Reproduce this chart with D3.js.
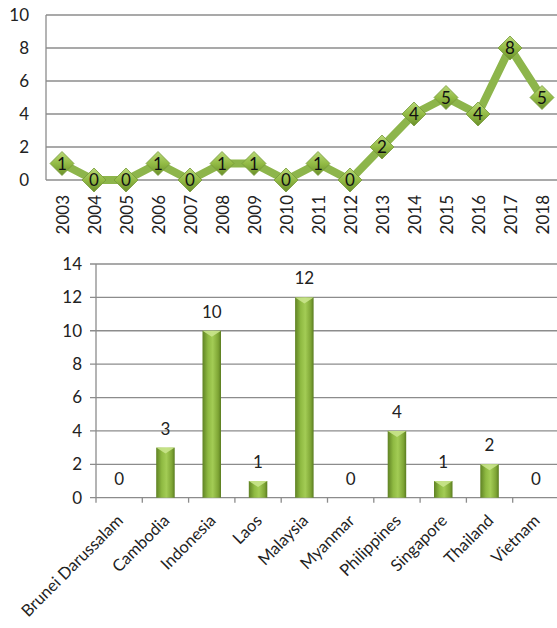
<!DOCTYPE html>
<html><head><meta charset="utf-8">
<script src="https://cdn.jsdelivr.net/npm/d3@7"></script>
<style>body{margin:0;background:#fff}svg{display:block;font-family:Lato,"Open Sans",sans-serif}</style>
</head><body><svg id="c" width="557" height="628"></svg>
<script>
const years = ["2003","2004","2005","2006","2007","2008","2009","2010","2011","2012","2013","2014","2015","2016","2017","2018"];
const yearValues = [1,0,0,1,0,1,1,0,1,0,2,4,5,4,8,5];
const lineTicks = [0,2,4,6,8,10];
const countries = ["Brunei Darussalam","Cambodia","Indonesia","Laos","Malaysia","Myanmar","Philippines","Singapore","Thailand","Vietnam"];
const countryValues = [0,3,10,1,12,0,4,1,2,0];
const barTicks = [0,2,4,6,8,10,12,14];

const svg = d3.select("#c");
const defs = svg.append("defs");
const dg = defs.append("linearGradient").attr("id","dia").attr("x1",0).attr("y1",0).attr("x2",0).attr("y2",1);
dg.append("stop").attr("offset","0%").attr("stop-color","#b9d878");
dg.append("stop").attr("offset","50%").attr("stop-color","#93bb45");
dg.append("stop").attr("offset","100%").attr("stop-color","#6a8f2a");
const bg = defs.append("linearGradient").attr("id","bar").attr("x1",0).attr("y1",0).attr("x2",1).attr("y2",0);
bg.append("stop").attr("offset","0%").attr("stop-color","#5f8224");
bg.append("stop").attr("offset","30%").attr("stop-color","#8fba42");
bg.append("stop").attr("offset","55%").attr("stop-color","#a3cc55");
bg.append("stop").attr("offset","85%").attr("stop-color","#7ea535");
bg.append("stop").attr("offset","100%").attr("stop-color","#5a7c20");
const grid = "#8c8c8c";
const fs = 17;

// ---- Top line chart
const L = {l:46, r:557, t:15, b:180};
const x1 = d3.scaleBand().domain(years).range([L.l, L.l + 32*16]);
const y1 = d3.scaleLinear().domain([0,10]).range([L.b, L.t]);
const g1 = svg.append("g");
g1.selectAll("line.g").data(lineTicks).join("line")
  .attr("x1",L.l).attr("x2",L.r).attr("y1",d=>y1(d)).attr("y2",d=>y1(d))
  .attr("stroke",grid).attr("stroke-width",1.3);
g1.append("line").attr("x1",L.l).attr("x2",L.l).attr("y1",L.t).attr("y2",L.b).attr("stroke",grid).attr("stroke-width",1.3);
g1.selectAll("text.yt").data(lineTicks).join("text")
  .attr("x",L.l-17).attr("y",d=>y1(d)).attr("dy","0.35em").attr("text-anchor","end")
  .attr("font-size",fs).attr("fill","#222").text(d=>d);
g1.selectAll("text.xt").data(years).join("text")
  .attr("transform",d=>`translate(${x1(d)+x1.bandwidth()/2+7},${L.b+15}) rotate(-90)`)
  .attr("text-anchor","end").attr("font-size",fs).attr("fill","#222").text(d=>d);
const line = d3.line().x((d,i)=>x1(years[i])+x1.bandwidth()/2).y(d=>y1(d));
g1.append("path").datum(yearValues).attr("d",line).attr("fill","none")
  .attr("stroke","#8db54b").attr("stroke-width",8).attr("stroke-linejoin","miter");
const mk = g1.selectAll("g.m").data(yearValues).join("g")
  .attr("transform",(d,i)=>`translate(${x1(years[i])+x1.bandwidth()/2},${y1(d)})`);
mk.append("path").attr("d","M0,-12L12,0L0,12L-12,0Z").attr("fill","url(#dia)")
  .attr("stroke","#76993a").attr("stroke-width",0.8);
mk.append("text").attr("dy","0.36em").attr("text-anchor","middle").attr("font-size",fs).attr("fill","#111").text(d=>d);

// ---- Bottom bar chart
const B = {l:96, r:557, t:264, b:497.7};
const x2 = d3.scaleBand().domain(countries).range([B.l, B.l + 46.3*10]);
const y2 = d3.scaleLinear().domain([0,14]).range([B.b, B.t]);
const g2 = svg.append("g");
g2.selectAll("line.g").data(barTicks).join("line")
  .attr("x1",B.l-6).attr("x2",B.r).attr("y1",d=>y2(d)).attr("y2",d=>y2(d))
  .attr("stroke",grid).attr("stroke-width",1.3);
g2.append("line").attr("x1",B.l).attr("x2",B.l).attr("y1",B.t).attr("y2",B.b+5).attr("stroke",grid).attr("stroke-width",1.3);
g2.selectAll("line.xt").data(countries.slice(1).concat(["end"])).join("line")
  .attr("x1",(d,i)=>B.l+46.3*(i+1)).attr("x2",(d,i)=>B.l+46.3*(i+1))
  .attr("y1",B.b).attr("y2",B.b+5).attr("stroke",grid).attr("stroke-width",1.3);
g2.selectAll("text.yt").data(barTicks).join("text")
  .attr("x",B.l-14).attr("y",d=>y2(d)).attr("dy","0.35em").attr("text-anchor","end")
  .attr("font-size",fs).attr("fill","#222").text(d=>d);
const bw = 18.5;
const bars = g2.selectAll("g.b").data(countryValues.map((v,i)=>({c:countries[i],v}))).join("g");
bars.filter(d=>d.v>0).append("rect")
  .attr("x",d=>x2(d.c)+x2.bandwidth()/2-bw/2).attr("width",bw)
  .attr("y",d=>y2(d.v)).attr("height",d=>y2(0)-y2(d.v)).attr("fill","url(#bar)");
bars.filter(d=>d.v>0).append("path")
  .attr("d",d=>{const cx=x2(d.c)+x2.bandwidth()/2, y=y2(d.v);return `M${cx-bw/2},${y}L${cx+bw/2},${y}L${cx},${y+6}Z`;})
  .attr("fill","#c9e48c").attr("opacity",0.9);
bars.append("text").attr("x",d=>x2(d.c)+x2.bandwidth()/2).attr("y",d=>y2(d.v)-13)
  .attr("text-anchor","middle").attr("font-size",fs).attr("fill","#222").text(d=>d.v);
g2.selectAll("text.xl").data(countries).join("text")
  .attr("transform",d=>`translate(${x2(d)+x2.bandwidth()/2+5},${B.b+24}) rotate(-45)`)
  .attr("text-anchor","end").attr("font-size",16.5).attr("fill","#222").text(d=>d);
</script></body></html>
